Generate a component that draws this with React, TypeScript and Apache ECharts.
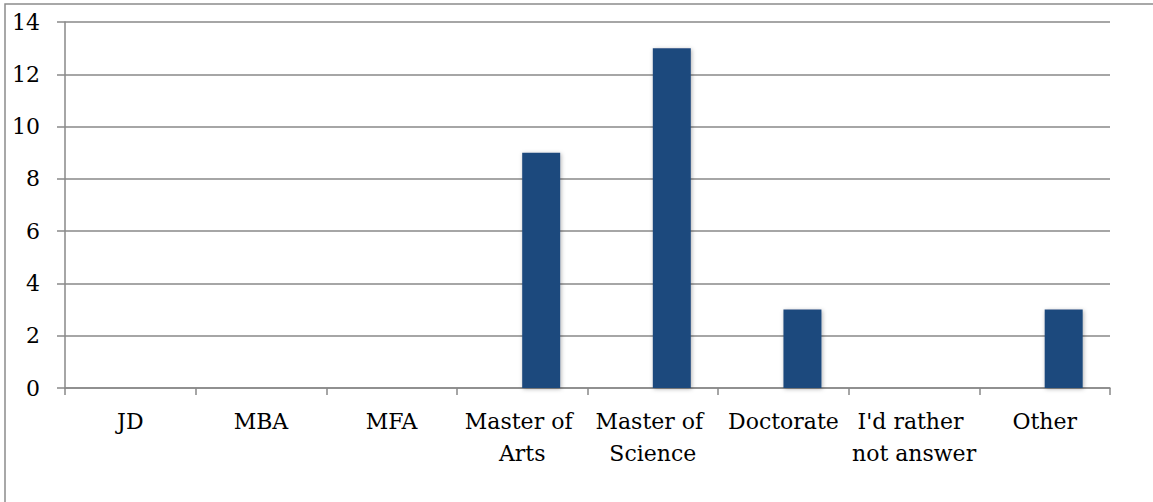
import React, { useEffect, useRef } from "react";
import * as echarts from "echarts";

const categories = ["JD", "MBA", "MFA", "Master of Arts", "Master of Science", "Doctorate", "I'd rather not answer", "Other"];
const emptySeries = [null, null, null, null, null, null, null, null];
const values = [0, 0, 0, 9, 13, 3, 0, 3];
const yTicks = { min: 0, max: 14, interval: 2 };

export default function App() {
  const ref = useRef<HTMLDivElement>(null);
  useEffect(() => {
    document.body.style.margin = "0";
    const chart = echarts.init(ref.current!, null, { renderer: "svg" });
    const font = "DejaVu Serif";
    const gray = "#898989";
    chart.setOption({
      animation: false,
      backgroundColor: "#ffffff",
      graphic: [
        {
          type: "rect",
          shape: { x: 5, y: 4, width: 1400, height: 800 },
          style: { fill: "none", stroke: "#8c8c8c", lineWidth: 1.5 },
          silent: true,
        },
      ],
      grid: { left: 65, right: 43, top: 22, bottom: 114, containLabel: false },
      xAxis: {
        type: "category",
        data: categories,
        axisLine: { show: true, lineStyle: { color: gray, width: 1.5 } },
        axisTick: { show: true, alignWithLabel: false, length: 7, lineStyle: { color: gray, width: 1.5 } },
        axisLabel: {
          interval: 0,
          color: "#000",
          fontFamily: font,
          fontSize: 22,
          lineHeight: 32,
          margin: 17,
          width: 128,
          overflow: "break",
        },
        splitLine: { show: false },
      },
      yAxis: {
        type: "value",
        min: yTicks.min,
        max: yTicks.max,
        interval: yTicks.interval,
        axisLine: { show: true, lineStyle: { color: gray, width: 1.5 } },
        axisTick: { show: true, length: 8, lineStyle: { color: gray, width: 1.5 } },
        axisLabel: { color: "#000", fontFamily: font, fontSize: 22, margin: 25 },
        splitLine: { show: true, lineStyle: { color: gray, width: 1.5 } },
      },
      series: [
        { type: "bar", data: emptySeries, barWidth: 38, barGap: "0%" },
        {
          type: "bar",
          data: values,
          barWidth: 38,
          barGap: "0%",
          itemStyle: {
            color: "#1F497D",
            shadowColor: "rgba(0,0,0,0.3)",
            shadowBlur: 4,
            shadowOffsetX: 1,
            shadowOffsetY: 1,
          },
        },
      ],
    });
    return () => chart.dispose();
  }, []);
  return <div ref={ref} style={{ width: 1153, height: 502 }} />;
}
